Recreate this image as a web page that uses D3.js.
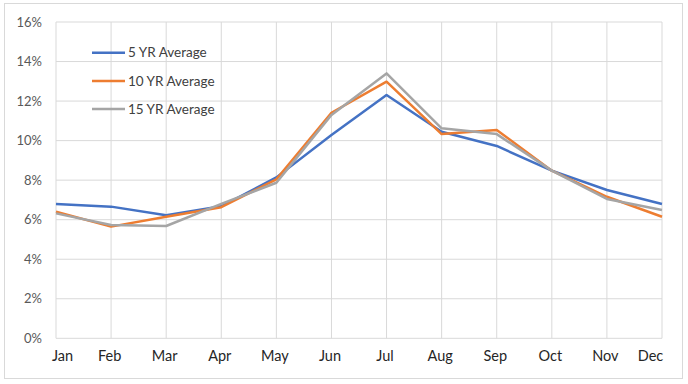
<!DOCTYPE html>
<html><head><meta charset="utf-8">
<script src="https://cdn.jsdelivr.net/npm/d3@7"></script>
<style>
html,body{margin:0;padding:0;background:#fff;}
svg{display:block;font-family:Lato,"Open Sans",sans-serif;}
</style></head>
<body><svg id="c" width="688" height="384"></svg>
<script>
const months = ["Jan","Feb","Mar","Apr","May","Jun","Jul","Aug","Sep","Oct","Nov","Dec"];
const yTicks = [0,2,4,6,8,10,12,14,16];
const seriesNames = ["5 YR Average","10 YR Average","15 YR Average"];
const seriesColors = ["#4472C4","#ED7D31","#A5A5A5"];
const avg5  = [6.79,6.66,6.22,6.68,8.14,10.28,12.31,10.45,9.73,8.48,7.50,6.79];
const avg10 = [6.40,5.65,6.15,6.63,8.04,11.41,12.98,10.33,10.54,8.48,7.16,6.15];
const avg15 = [6.32,5.73,5.68,6.80,7.87,11.30,13.40,10.62,10.33,8.48,7.05,6.49];
const seriesValues = [avg5, avg10, avg15];

const svg = d3.select("#c");
svg.append("rect").attr("x",4.5).attr("y",3.5).attr("width",678).attr("height",375)
  .attr("fill","#fff").attr("stroke","#D9D9D9").attr("stroke-width",1);

const L=56, R=662, T=22, B=338.3;
const x = d3.scalePoint().domain(months).range([L,R]);
const y = d3.scaleLinear().domain([0,16]).range([B,T]);

const g = svg.append("g");
// horizontal gridlines
g.selectAll("line.h").data(yTicks).join("line")
  .attr("x1",L).attr("x2",R).attr("y1",d=>y(d)).attr("y2",d=>y(d))
  .attr("stroke","#D9D9D9").attr("stroke-width",1);
// vertical gridlines
g.selectAll("line.v").data(months).join("line")
  .attr("x1",d=>x(d)).attr("x2",d=>x(d)).attr("y1",T).attr("y2",B)
  .attr("stroke","#D9D9D9").attr("stroke-width",1);

// y labels
const yAxis = d3.axisLeft(y).tickValues(yTicks).tickFormat(d=>d+"%").tickSize(0).tickPadding(14);
const ya = svg.append("g").attr("transform",`translate(${L},0)`).call(yAxis);
ya.select(".domain").remove();
ya.selectAll("text").attr("fill","#595959").style("font-size","13px").style("font-family","Lato,'Open Sans',sans-serif");

// x labels
const xAxis = d3.axisBottom(x).tickSize(0).tickPadding(12);
const xa = svg.append("g").attr("transform",`translate(0,${B})`).call(xAxis);
xa.select(".domain").remove();
xa.selectAll("text").attr("fill","#262626").style("font-size","14.5px").style("font-family","Lato,'Open Sans',sans-serif")
  .attr("dx",(d,i)=> i===0?6:(i===months.length-1?-12:-2));

// lines
const line = d3.line().x((d,i)=>x(months[i])).y(d=>y(d));
seriesValues.forEach((vals,k)=>{
  svg.append("path").datum(vals).attr("d",line).attr("fill","none")
    .attr("stroke",seriesColors[k]).attr("stroke-width",2.5).attr("stroke-linejoin","round");
});

// legend
const lg = svg.append("g");
seriesNames.forEach((n,k)=>{
  const yy = 52.7 + k*28.2;
  lg.append("line").attr("x1",92).attr("x2",125).attr("y1",yy).attr("y2",yy)
    .attr("stroke",seriesColors[k]).attr("stroke-width",2.5);
  lg.append("text").attr("x",128).attr("y",yy).attr("dy","0.35em")
    .attr("fill","#404040").style("font-size","13.5px").text(n);
});
</script></body></html>
